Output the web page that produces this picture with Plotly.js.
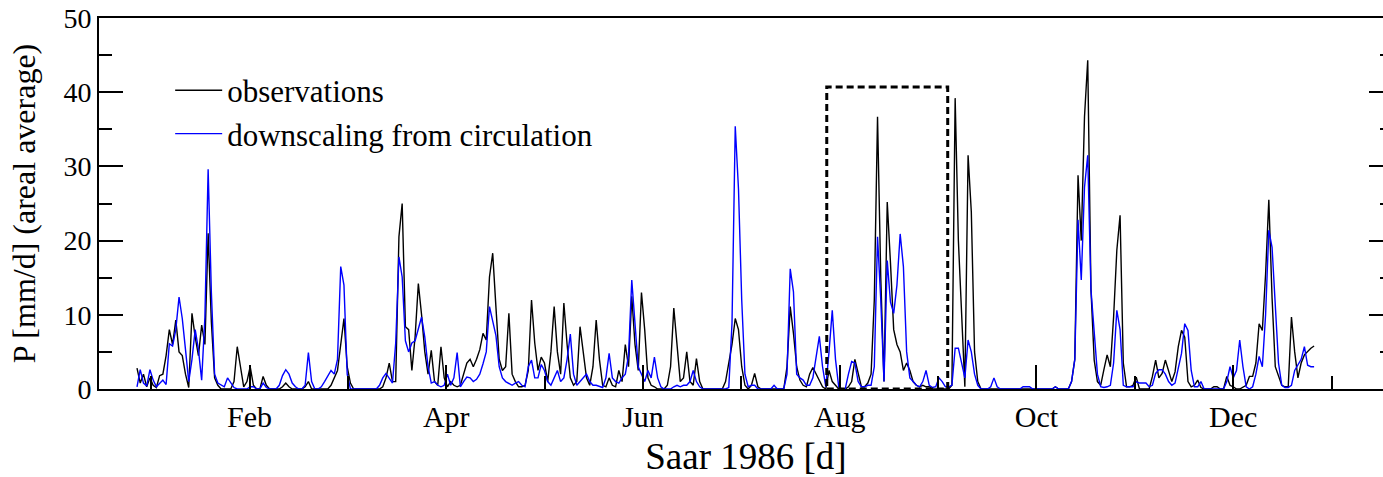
<!DOCTYPE html>
<html>
<head>
<meta charset="utf-8">
<script src="https://cdn.plot.ly/plotly-3.0.1.min.js"></script>
<style>
html,body{margin:0;padding:0;overflow:hidden;background:#fff}
#chart{width:1400px;height:477px}
</style>
</head>
<body>
<div id="chart"></div>
<script>
// ---- data (daily areal precipitation, Saar 1986, mm/d) ----
const tickLabels = ['Feb','Apr','Jun','Aug','Oct','Dec'];
const seriesNames = ['observations','downscaling from circulation'];

const observations = [
  2.8,0.8,2.0,0.3,1.5,0.5,0.2,1.8,2.0,4.5,
  8.0,6.0,9.3,5.0,4.5,2.0,0.2,10.2,7.0,4.5,
  8.6,6.0,21.0,9.0,1.5,0.5,0,0,0,0,
  1.0,5.7,3.0,0.3,1.0,3.0,0.5,0,0,1.7,
  0.5,0,0,0,0,0.3,0.8,0.3,0,0,
  0,0,0.3,1.0,0,0,0,0,0,0,
  0.5,1.5,2.5,6.0,9.5,3.0,0.8,0,0,0,
  0,0,0,0,0,0,0.3,1.5,3.5,1.0,
  1.0,20.5,25.0,8.4,8.0,2.5,7.0,14.2,10.0,5.0,
  2.0,5.2,1.0,0.5,5.7,1.5,0.3,1.0,0.5,0.3,
  0.5,2.0,3.5,4.0,3.0,4.0,5.3,7.5,6.6,15.1,
  18.3,11.0,4.0,2.5,3.0,10.2,2.0,1.0,0.3,0.3,
  0.5,2.5,12.0,6.2,2.5,4.3,3.5,1.0,5.0,11.1,
  5.0,2.0,11.6,6.0,1.5,0.5,1.0,8.4,5.0,1.5,
  0.5,3.0,9.3,4.0,0.5,0.3,1.5,0.5,0.3,2.5,
  1.0,6.0,3.0,12.5,6.0,2.5,13.0,8.0,1.5,0.5,
  0.3,0,0,0,0.5,3.0,10.9,6.0,1.0,1.5,
  5.0,1.0,0.5,4.1,1.0,0,0,0,0,0,
  0,0,1.0,3.4,6.0,9.5,8.0,3.0,0.5,0,
  0.5,2.1,0.3,0,0,0,0,0,0,0,
  0,3.0,11.1,7.5,3.0,1.2,0.5,0.3,2.0,2.9,
  2.0,1.0,0.3,0,2.5,1.0,0.5,0,0,0,
  0.3,1.0,4.0,2.0,0.3,0.3,0.8,2.0,12.0,36.7,
  15.0,1.0,25.2,17.0,8.0,6.0,5.0,2.5,3.5,2.5,
  1.0,0.5,0.3,0.5,0.3,0.3,0,0,0,0,
  0,0,0.5,39.2,20.0,9.3,0.3,31.5,23.9,5.0,
  1.0,0,0,0,0,0,0,0,0,0,
  0,0,0,0,0,0,0,0,0,0,
  0,0,0,0,0.3,0,0,0,0,1.0,
  4.0,28.8,20.0,36.7,44.3,13.4,3.9,1.0,0.5,2.6,
  4.6,3.0,9.7,18.7,23.4,3.5,0.3,0.3,0.5,1.6,
  0,0,0,0,1.7,3.9,1.5,2.1,3.9,2.5,
  1.0,2.3,5.7,7.9,7.0,1.0,0.3,0.5,1.2,0.2,
  0,0,0,0.3,0.3,0,0,1.7,0.5,0.3,
  0,0,0.3,0.5,1.7,1.7,3.5,8.8,7.9,15.5,
  25.5,12.3,3.0,1.7,0.5,0.3,0.3,9.7,5.0,1.5,
  3.5,4.6,5.1,5.5,5.8
];

const downscaling = [
  0.3,2.6,0.8,0.4,2.6,1.2,0.3,0.8,1.2,0.6,
  6.1,5.8,8.0,12.4,9.5,5.3,1.0,4.0,8.0,5.3,
  1.2,9.7,29.6,13.0,2.0,0.8,0.5,0.3,1.5,0.8,
  0.2,0,0,0,0,0.3,0.3,0,0,0.8,
  0.2,0,0,0,0.5,1.8,2.6,2.0,0.8,0.3,
  0,0,0.5,4.9,1.0,0,0,0.3,1.0,1.8,
  2.5,2.0,4.0,16.5,14.0,2.0,0,0,0,0,
  0,0,0,0,0,0.5,1.5,2.1,1.5,0.8,
  6.2,17.8,15.1,6.5,5.0,6.2,6.5,8.0,9.7,7.0,
  3.0,0.8,1.0,0.5,0.3,0.5,2.0,0.5,1.5,4.9,
  0.3,1.0,1.6,1.5,1.0,1.3,2.0,3.4,5.0,11.1,
  9.3,7.2,3.0,1.5,1.0,0.8,0.5,0.8,1.0,0.5,
  0.3,3.0,3.9,1.5,1.5,3.3,2.5,1.0,0.5,1.5,
  2.5,1.0,1.5,4.0,7.4,2.0,0.5,1.0,1.5,2.0,
  1.0,0.5,0.5,0.3,0.2,1.5,4.8,1.5,1.0,0.8,
  1.5,2.0,4.5,14.7,9.0,3.0,2.0,1.0,2.5,1.5,
  4.3,1.5,0.3,0,0,0,0.3,0.5,0.3,0.5,
  0.5,1.0,2.5,1.0,0.3,0,0,0,0,0,
  0,0,0,0.2,8.9,35.4,27.0,12.0,2.0,0.3,
  0.5,0.5,0,0,0,0,0,0.5,0,0,
  0,2.0,16.2,13.1,2.0,1.5,1.2,0.5,0.5,1.5,
  4.4,7.1,3.0,0.3,5.0,10.6,4.0,0.3,0,0,
  2.0,3.7,3.5,1.0,0.3,0.3,0.5,0.5,3.0,20.5,
  12.0,1.0,17.3,11.7,10.2,14.0,20.9,16.5,5.0,1.5,
  1.0,0.5,0.3,1.0,2.5,0.5,0.2,0.3,1.5,1.0,
  0.3,0.3,0.5,5.5,5.5,3.5,1.5,6.6,5.0,2.0,
  0.5,0,0,0,0.3,1.5,0.3,0,0,0,
  0,0,0,0,0.3,0.3,0.3,0,0,0,
  0,0,0,0,0.3,0,0,0,0,1.0,
  4.0,22.8,14.7,27.2,31.5,13.4,7.5,2.0,0.3,0.2,
  0.3,0.5,3.5,10.6,8.0,0.5,0.3,0.3,0.3,1.0,
  0.8,0.8,0.8,0.3,0.5,2.1,2.6,2.6,2.0,1.0,
  0.5,0.8,3.0,4.8,8.8,7.9,2.5,0.3,0.3,1.0,
  0,0,0,0,0,0,0,1.0,3.0,1.5,
  2.5,6.6,3.0,0.3,0,0.3,2.0,4.4,3.0,10.0,
  21.4,19.1,10.6,3.5,0.5,0.2,0.2,0.5,2.5,3.3,
  4.0,5.7,3.2,3.0,3.0
];

// ---- layout helpers ----
const days = observations.map((_, i) => i + 1);
const DAYS_PER_MONTH = 365 / 12;
const FIRST_TICK_DAY = 35.8;
const majorTicks = tickLabels.map((_, i) => FIRST_TICK_DAY + 2 * i * DAYS_PER_MONTH);
const minorTicks = [];
for (let i = 0; i <= tickLabels.length; i++) minorTicks.push(FIRST_TICK_DAY + (2 * i - 1) * DAYS_PER_MONTH);

const FONT = 'Liberation Serif, Times New Roman, serif';

const traces = [
  {x: days, y: observations, name: seriesNames[0], type: 'scatter', mode: 'lines',
   line: {color: '#000000', width: 1.4}},
  {x: days, y: downscaling, name: seriesNames[1], type: 'scatter', mode: 'lines',
   line: {color: '#0000ff', width: 1.4}}
];

const layout = {
  width: 1400, height: 477,
  margin: {l: 99, r: 7, t: 18, b: 88},
  paper_bgcolor: '#fff', plot_bgcolor: '#fff',
  font: {family: FONT, color: '#000'},
  showlegend: true,
  legend: {x: 0.055, y: 0.877, xanchor: 'left', yanchor: 'top',
           bgcolor: 'rgba(0,0,0,0)', borderwidth: 0,
           font: {family: FONT, size: 31, color: '#000'}, itemwidth: 47},
  xaxis: {
    range: [-10.75, 389.4],
    tickmode: 'array', tickvals: majorTicks, ticktext: tickLabels,
    ticks: 'inside', ticklen: 24, tickwidth: 2, tickcolor: '#000',
    minor: {tickmode: 'array', tickvals: minorTicks, ticks: 'inside', ticklen: 13, tickwidth: 2, tickcolor: '#000'},
    showline: true, linewidth: 2, linecolor: '#000', mirror: true,
    showgrid: false, zeroline: false,
    tickfont: {family: FONT, size: 30, color: '#000'},
    title: {text: 'Saar 1986 [d]', font: {family: FONT, size: 37, color: '#000'}, standoff: 11}
  },
  yaxis: {
    range: [0, 50],
    tickmode: 'linear', tick0: 0, dtick: 10,
    ticks: 'inside', ticklen: 24, tickwidth: 2, tickcolor: '#000',
    minor: {tickmode: 'linear', dtick: 5, ticks: 'inside', ticklen: 13, tickwidth: 2, tickcolor: '#000'},
    showline: true, linewidth: 2, linecolor: '#000', mirror: 'ticks',
    showgrid: false, zeroline: false,
    tickfont: {family: FONT, size: 28, color: '#000'},
    title: {text: 'P [mm/d] (areal average)', font: {family: FONT, size: 32, color: '#000'}, standoff: 18}
  },
  shapes: [{
    type: 'rect', xref: 'x', yref: 'y', x0: 214.3, x1: 251.7, y0: 0, y1: 40.7,
    line: {color: '#000', width: 3, dash: '7px,4px'}, fillcolor: 'rgba(0,0,0,0)'
  }]
};

Plotly.newPlot('chart', traces, layout, {displayModeBar: false, staticPlot: true});
</script>
</body>
</html>
